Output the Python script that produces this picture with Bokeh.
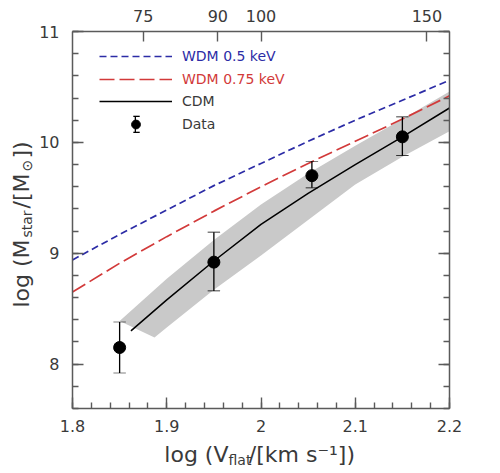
import numpy as np
from bokeh.plotting import figure
from bokeh.layouts import row, column
from bokeh.models import (LinearAxis, FixedTicker, CustomJSTickFormatter, Range1d,
                          ColumnDataSource, Legend, LegendItem)
from bokeh.core.properties import value
from bokeh.embed import file_html
from bokeh.resources import INLINE

# ---------------- data ----------------
wdm05_logv = [1.80, 1.85, 1.90, 1.95, 2.00, 2.05, 2.10, 2.15, 2.20]
wdm05_logm = [8.94, 9.17, 9.39, 9.61, 9.81, 10.01, 10.20, 10.38, 10.56]

wdm075_logv = [1.80, 1.85, 1.90, 1.95, 2.00, 2.05, 2.10, 2.15, 2.20]
wdm075_logm = [8.65, 8.91, 9.15, 9.38, 9.60, 9.81, 10.01, 10.21, 10.42]

cdm_logv = [1.862, 1.90, 1.95, 2.00, 2.05, 2.10, 2.15, 2.20]
cdm_logm = [8.30, 8.58, 8.93, 9.26, 9.54, 9.80, 10.05, 10.31]

band_upper_logv = [1.850, 1.90, 1.95, 2.00, 2.05, 2.10, 2.15, 2.20]
band_upper_logm = [8.39, 8.77, 9.12, 9.44, 9.72, 9.97, 10.21, 10.46]
band_lower_logv = [1.887, 1.90, 1.95, 2.00, 2.05, 2.10, 2.15, 2.20]
band_lower_logm = [8.24, 8.33, 8.67, 8.98, 9.30, 9.62, 9.87, 10.10]

data_logv = [1.85, 1.95, 2.054, 2.15]
data_logm = [8.15, 8.92, 9.70, 10.05]
data_lo = [7.92, 8.66, 9.59, 9.88]
data_hi = [8.38, 9.19, 9.83, 10.23]

x_major = [1.8, 1.9, 2.0, 2.1, 2.2]
y_major = [8, 9, 10, 11]
top_speeds = [75, 90, 100, 150]   # km/s

legend_labels = ["WDM 0.5 keV", "WDM 0.75 keV", "CDM", "Data"]

# ---------------- styling ----------------
BLUE = "#2c2ca6"
RED = "#d23a3a"
AX = "#5a5a5a"
TXT = "#3a3a3a"
FONT = "DejaVu Sans"
CAP_HALF = 0.0066    # half width of the error-bar caps (x units, ~6 px)
STEM_HALF = 0.0007   # half width of the error-bar stems (x units, ~0.7 px)
CAP_THICK = 0.0032   # half thickness of the caps (y units, ~0.7 px)

W_YT = 36          # width of the strip that holds the y title
MAIN_W, MAIN_H = 464, 440
XT_H = 33          # height of the strip that holds the x title

p = figure(width=MAIN_W, height=MAIN_H, x_range=Range1d(1.8, 2.2), y_range=Range1d(7.6, 11.0),
           output_backend="svg", toolbar_location=None,
           x_axis_location=None, y_axis_location=None,
           min_border_left=34, min_border_right=51, min_border_top=31, min_border_bottom=32)
p.grid.visible = False
p.outline_line_color = None
p.background_fill_color = "white"
p.border_fill_color = "white"


def style_axis(ax, major_len=11, minor_len=6):
    ax.axis_line_color = AX
    ax.axis_line_width = 1.5
    ax.major_tick_line_color = AX
    ax.minor_tick_line_color = AX
    ax.major_tick_line_width = 1.4
    ax.minor_tick_line_width = 1.4
    ax.major_tick_in = major_len
    ax.major_tick_out = 0
    ax.minor_tick_in = minor_len
    ax.minor_tick_out = 0
    ax.major_label_text_font = FONT
    ax.major_label_text_font_size = "16px"
    ax.major_label_text_color = TXT


x_minor = list(np.round(np.arange(1.8, 2.2001, 0.02), 3))
y_minor = list(np.round(np.arange(7.6, 11.0001, 0.2), 3))
fmt_dec = CustomJSTickFormatter(code="return String(Math.round(tick*10)/10);")
fmt_none = CustomJSTickFormatter(code="return '';")
fmt_top = CustomJSTickFormatter(code="return String(Math.round(Math.pow(10, tick)));")

bottom = LinearAxis(ticker=FixedTicker(ticks=x_major, minor_ticks=x_minor), formatter=fmt_dec)
style_axis(bottom)
bottom.major_label_standoff = 11
p.add_layout(bottom, "below")

left = LinearAxis(ticker=FixedTicker(ticks=y_major, minor_ticks=y_minor), formatter=fmt_dec)
style_axis(left)
left.major_label_standoff = 13
p.add_layout(left, "left")

right = LinearAxis(ticker=FixedTicker(ticks=y_major, minor_ticks=y_minor), formatter=fmt_none)
style_axis(right)
right.major_label_standoff = 0
p.add_layout(right, "right")

top = LinearAxis(ticker=FixedTicker(ticks=list(np.log10(top_speeds)), minor_ticks=[]), formatter=fmt_top)
style_axis(top, major_len=10)
top.major_label_standoff = 10
p.add_layout(top, "above")

# ---------------- marks ----------------
p.patch(band_upper_logv + band_lower_logv[::-1], band_upper_logm + band_lower_logm[::-1],
        fill_color="#c9c9c9", line_color=None)

r_blue = p.line(wdm05_logv, wdm05_logm, line_color=BLUE, line_width=1.7, line_dash="7 4")
r_red = p.line(wdm075_logv, wdm075_logm, line_color=RED, line_width=1.7, line_dash="15 5")
r_cdm = p.line(cdm_logv, cdm_logm, line_color="black", line_width=1.5)

src = ColumnDataSource(dict(
    x=data_logv, y=data_logm, lo=data_lo, hi=data_hi,
    sl=[v - STEM_HALF for v in data_logv], sr=[v + STEM_HALF for v in data_logv],
    cl=[v - CAP_HALF for v in data_logv], cr=[v + CAP_HALF for v in data_logv],
    lo_b=[v - CAP_THICK for v in data_lo], lo_t=[v + CAP_THICK for v in data_lo],
    hi_b=[v - CAP_THICK for v in data_hi], hi_t=[v + CAP_THICK for v in data_hi],
))
# error bars: stems and caps as thin filled boxes
r_stem = p.quad(left="sl", right="sr", bottom="lo", top="hi", source=src,
                fill_color="black", line_color=None)
r_cap = p.quad(left="cl", right="cr", bottom="lo_b", top="lo_t", source=src,
               fill_color="black", line_color=None)
p.quad(left="cl", right="cr", bottom="hi_b", top="hi_t", source=src,
       fill_color="black", line_color=None)
r_pts = p.scatter("x", "y", source=src, size=12, color="black")

frame_h = 377
LEG_X = 27
GLYPH_W = 73


def add_legend(label, rends, col, cy, gw, gh, x=LEG_X):
    leg = Legend(items=[LegendItem(label=label, renderers=rends)],
                 location=(int(round(x)), int(round(frame_h - (cy + gh / 2)))),
                 padding=0, margin=0, spacing=0,
                 glyph_width=gw, glyph_height=gh, label_height=gh, label_width=0,
                 label_standoff=10,
                 label_text_font=FONT, label_text_font_size="14px", label_text_color=col,
                 border_line_color=None, background_fill_alpha=0)
    p.add_layout(leg)


add_legend(legend_labels[0], [r_blue], BLUE, 25, GLYPH_W, 20)
add_legend(legend_labels[1], [r_red], RED, 48, GLYPH_W, 20)
add_legend(legend_labels[2], [r_cdm], TXT, 70, GLYPH_W, 20)
add_legend(legend_labels[3], [r_pts], TXT, 93, GLYPH_W, 22)
# error bar of the "Data" key: stem and two caps
cx = LEG_X + GLYPH_W / 2
add_legend(" ", [r_stem], TXT, 93, 2, 20, x=cx - 1)
add_legend(" ", [r_cap], TXT, 93 - 8, 8, 2, x=cx - 4)
add_legend(" ", [r_cap], TXT, 93 + 8, 8, 2, x=cx - 4)

# ---------------- axis titles (separate strips so sub/superscripts can be placed) ----------------
def strip(w, h):
    f = figure(width=w, height=h, x_range=Range1d(0, w), y_range=Range1d(0, h),
               output_backend="svg", toolbar_location=None,
               x_axis_location=None, y_axis_location=None, min_border=0)
    f.grid.visible = False
    f.outline_line_color = None
    f.background_fill_color = "white"
    f.border_fill_color = "white"
    return f


def put(f, text, x, y, size, angle=0.0):
    f.text(x=[x], y=[y], text=[text], angle=angle, text_font=value(FONT),
           text_font_size=size, text_color=TXT, text_align="left", text_baseline="alphabetic")


# x title: log (V_flat/[km s^-1])
xt = strip(MAIN_W, XT_H)
x0 = 113
put(xt, "log (V", x0, 19, "22px")
put(xt, "flat", x0 + 79, 14, "14px")
put(xt, "/[km s\u207b\u00b9])", x0 + 79 + 25, 19, "22px")

# y title: log (M_star/[M_sun])
yt = strip(W_YT, MAIN_H + XT_H)
a = np.pi / 2
y0 = 166
put(yt, "log (M", 21, y0, "22px", a)
put(yt, "star", 26, y0 + 70, "14px", a)
put(yt, "/[M", 21, y0 + 70 + 29, "22px", a)
put(yt, "\u2299", 26, y0 + 70 + 29 + 37, "14px", a)
put(yt, "])", 21, y0 + 70 + 29 + 37 + 13, "22px", a)

layout = row(yt, column(p, xt))
open("out.html", "w").write(file_html(layout, INLINE))
